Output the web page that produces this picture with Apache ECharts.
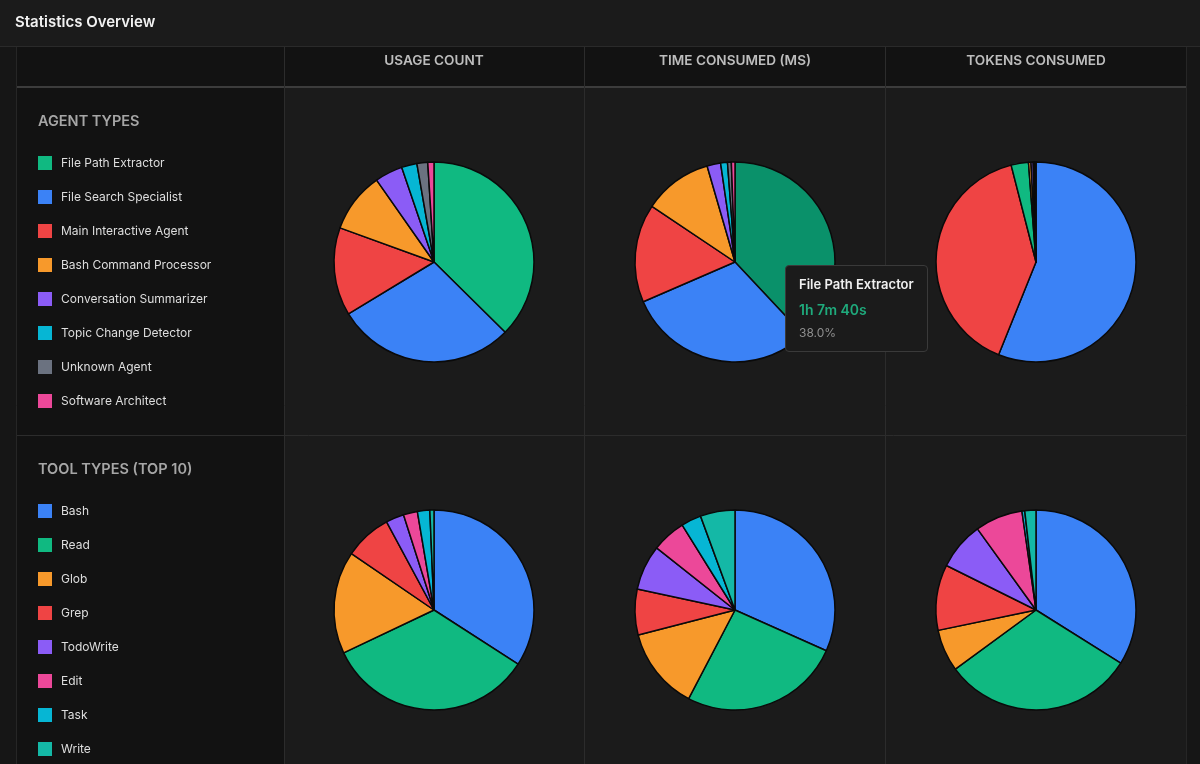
<!DOCTYPE html>
<html>
<head>
<meta charset="utf-8">
<script src="https://cdn.jsdelivr.net/npm/echarts@6/dist/echarts.min.js"></script>
<style>
html,body{margin:0;padding:0;background:#161616;}
#c{width:1200px;height:764px;}
</style>
</head>
<body>
<div id="c"></div>
<script>
// ---- data ----
const columnTitles = ['USAGE COUNT', 'TIME CONSUMED (MS)', 'TOKENS CONSUMED'];
const agentNames = ['File Path Extractor', 'File Search Specialist', 'Main Interactive Agent', 'Bash Command Processor', 'Conversation Summarizer', 'Topic Change Detector', 'Unknown Agent', 'Software Architect'];
const agentUsage = [150, 116, 57, 39, 18, 10, 7, 4];
const agentTimeMs = [4060000, 3258600, 1698800, 1185900, 235000, 117500, 66000, 62200];
const agentTokens = [336000, 6732000, 4788000, 48000, 42000, 24000, 18000, 12000];

const toolNames = ['Bash', 'Read', 'Glob', 'Grep', 'TodoWrite', 'Edit', 'Task', 'Write'];
const toolUsage = [512, 508, 249, 114, 44, 34, 30, 10];
const toolTimeMs = [634000, 520000, 266000, 148000, 146000, 110000, 65000, 112000];
const toolTokens = [1017000, 930000, 204000, 318000, 231000, 231000, 13500, 54000];

const hovered = { pie: 1, name: 'File Path Extractor' };

// ---- styles ----
const agentColors = {
  'File Path Extractor': '#10b981', 'File Search Specialist': '#3b82f6', 'Main Interactive Agent': '#ef4444',
  'Bash Command Processor': '#f7992b', 'Conversation Summarizer': '#8b5cf6', 'Topic Change Detector': '#06b6d4',
  'Unknown Agent': '#6b7280', 'Software Architect': '#ec4899'
};
const toolColors = {
  'Bash': '#3b82f6', 'Read': '#10b981', 'Glob': '#f7992b', 'Grep': '#ef4444',
  'TodoWrite': '#8b5cf6', 'Edit': '#ec4899', 'Task': '#06b6d4', 'Write': '#14b8a6'
};
const hoverColor = '#0a916a';
const FONT = 'Inter, "Noto Sans", sans-serif';

function fmtDuration(ms) {
  let s = Math.round(ms / 1000);
  const h = Math.floor(s / 3600); s -= h * 3600;
  const m = Math.floor(s / 60); s -= m * 60;
  let out = [];
  if (h) out.push(h + 'h');
  if (m || h) out.push(m + 'm');
  out.push(s + 's');
  return out.join(' ');
}

function buildData(names, values, colors, sortDesc, pieIdx) {
  let items = names.map((n, i) => ({ name: n, value: values[i] }));
  if (sortDesc) items.sort((a, b) => b.value - a.value);
  items.forEach(it => {
    let c = colors[it.name];
    if (pieIdx === hovered.pie && it.name === hovered.name) c = hoverColor;
    it.itemStyle = { color: c };
  });
  return items;
}

const colX = [434, 735, 1036];
const rowY = [262, 610];
const pies = [
  { names: agentNames, values: agentUsage, colors: agentColors, sort: true, kind: 'count' },
  { names: agentNames, values: agentTimeMs, colors: agentColors, sort: true, kind: 'time' },
  { names: agentNames, values: agentTokens, colors: agentColors, sort: true, kind: 'tokens' },
  { names: toolNames, values: toolUsage, colors: toolColors, sort: false, kind: 'count' },
  { names: toolNames, values: toolTimeMs, colors: toolColors, sort: false, kind: 'time' },
  { names: toolNames, values: toolTokens, colors: toolColors, sort: false, kind: 'tokens' }
];

const series = pies.map((p, i) => ({
  type: 'pie',
  name: p.kind,
  center: [colX[i % 3], rowY[Math.floor(i / 3)]],
  radius: [0, 100],
  startAngle: 90,
  clockwise: true,
  label: { show: false },
  labelLine: { show: false },
  itemStyle: { borderColor: '#0a0a0a', borderWidth: 1.5 },
  emphasis: { scale: false, disabled: true },
  animation: false,
  data: buildData(p.names, p.values, p.colors, p.sort, i)
}));

const lineC = '#2c2c2c';
const graphics = [
  { type: 'rect', shape: { x: 0, y: 0, width: 1200, height: 46 }, style: { fill: '#1b1b1b' }, z: -10 },
  { type: 'rect', shape: { x: 16, y: 47, width: 1170, height: 40 }, style: { fill: '#121212' }, z: -10 },
  { type: 'rect', shape: { x: 16, y: 88, width: 268, height: 676 }, style: { fill: '#121212' }, z: -10 },
  { type: 'rect', shape: { x: 285, y: 88, width: 901, height: 676 }, style: { fill: '#1b1b1b' }, z: -10 },
  { type: 'line', shape: { x1: 0, y1: 46.5, x2: 1200, y2: 46.5 }, style: { stroke: '#2a2a2a', lineWidth: 1 }, z: -5 },
  { type: 'line', shape: { x1: 16, y1: 87, x2: 1186, y2: 87 }, style: { stroke: '#3c3c3c', lineWidth: 2 }, z: -5 },
  { type: 'line', shape: { x1: 16, y1: 435.5, x2: 1186, y2: 435.5 }, style: { stroke: lineC, lineWidth: 1 }, z: -5 },
  { type: 'line', shape: { x1: 16.5, y1: 47, x2: 16.5, y2: 764 }, style: { stroke: '#262626', lineWidth: 1 }, z: -5 },
  { type: 'line', shape: { x1: 1186.5, y1: 47, x2: 1186.5, y2: 764 }, style: { stroke: '#262626', lineWidth: 1 }, z: -5 },
  { type: 'line', shape: { x1: 284.5, y1: 47, x2: 284.5, y2: 764 }, style: { stroke: lineC, lineWidth: 1 }, z: -5 },
  { type: 'line', shape: { x1: 584.5, y1: 47, x2: 584.5, y2: 764 }, style: { stroke: lineC, lineWidth: 1 }, z: -5 },
  { type: 'line', shape: { x1: 885.5, y1: 47, x2: 885.5, y2: 764 }, style: { stroke: lineC, lineWidth: 1 }, z: -5 },
  { type: 'text', x: 15, y: 22, style: { text: 'Statistics Overview', fill: '#f2f2f2', font: '600 15px ' + FONT, textVerticalAlign: 'middle' } },
  { type: 'text', x: 38, y: 122, style: { text: 'AGENT TYPES', fill: '#a6a6a6', font: '600 14.5px ' + FONT, textVerticalAlign: 'middle' } },
  { type: 'text', x: 38, y: 470, style: { text: 'TOOL TYPES (TOP 10)', fill: '#a6a6a6', font: '600 14.5px ' + FONT, textVerticalAlign: 'middle' } }
];
columnTitles.forEach((t, i) => {
  graphics.push({ type: 'text', x: colX[i], y: 61, style: { text: t, fill: '#bdbdbd', font: '600 13.6px ' + FONT, textAlign: 'center', textVerticalAlign: 'middle' } });
});

const legendBase = {
  type: 'plain', orient: 'vertical', left: 38, padding: 0, height: 300,
  itemWidth: 14, itemHeight: 14, itemGap: 20, icon: 'rect',
  selectedMode: false,
  itemStyle: { borderWidth: 0 },
  textStyle: { color: '#dedede', fontSize: 12, lineHeight: 14, fontFamily: FONT, padding: [0, 0, 0, 4] }
};

const chart = echarts.init(document.getElementById('c'), null, { renderer: 'canvas' });
chart.setOption({
  backgroundColor: '#161616',
  animation: false,
  tooltip: {
    trigger: 'item', triggerOn: 'none', alwaysShowContent: true,
    position: [785, 265],
    backgroundColor: '#1b1b1b', borderColor: '#3a3a3a', borderWidth: 1, padding: [11, 13, 12, 13],
    extraCssText: 'box-shadow:none;border-radius:4px;',
    transitionDuration: 0,
    formatter: function (p) {
      let v = p.value;
      let txt = p.seriesName === 'time' ? fmtDuration(v) : v.toLocaleString('en-US');
      return '<div style="font-family:Inter,\'Noto Sans\',sans-serif;line-height:1">' +
        '<div style="color:#f0f0f0;font-weight:600;font-size:13px;margin:1px 0 12px 0">' + p.name + '</div>' +
        '<div style="color:#1faa7c;font-weight:600;font-size:14px;margin-bottom:10px">' + txt + '</div>' +
        '<div style="color:#8f8f8f;font-size:12px">' + p.percent.toFixed(1) + '%</div></div>';
    }
  },
  legend: [
    Object.assign({}, legendBase, { top: 156, data: agentNames }),
    Object.assign({}, legendBase, { top: 504, data: toolNames })
  ],
  graphic: graphics,
  series: series
});

const hovIdx = series[hovered.pie].data.findIndex(d => d.name === hovered.name);
chart.dispatchAction({ type: 'showTip', seriesIndex: hovered.pie, dataIndex: hovIdx });
</script>
</body>
</html>
